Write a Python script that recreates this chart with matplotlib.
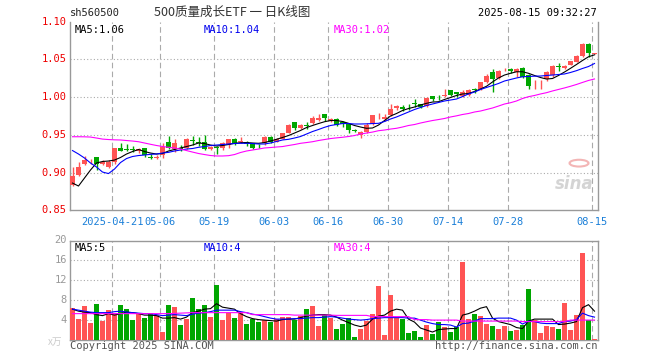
import matplotlib
matplotlib.use("Agg")
import matplotlib.pyplot as plt
import numpy as np

# ---- daily K data, 2025-04-10 .. 2025-08-15 (88 sessions) ----
open_ = [0.883, 0.897, 0.911, 0.9175, 0.920, 0.912, 0.908, 0.914, 0.933, 0.931,
         0.931, 0.928, 0.932, 0.920, 0.9195, 0.923, 0.940, 0.931, 0.933, 0.932,
         0.9425, 0.941, 0.941, 0.931, 0.934, 0.932, 0.936, 0.945, 0.9405, 0.940,
         0.939, 0.9355, 0.939, 0.9475, 0.941, 0.945, 0.953, 0.967, 0.959, 0.963,
         0.966, 0.970, 0.9777, 0.969, 0.9706, 0.9674, 0.9643, 0.9557, 0.9497, 0.9541,
         0.9643, 0.9718, 0.9705, 0.9763, 0.9853, 0.9865, 0.9910, 0.9925, 0.9908, 0.9882,
         1.0015, 1.0028, 1.002, 1.0094, 1.0072, 1.0015, 1.003, 1.0105, 1.0107, 1.0204,
         1.0337, 1.0249, 1.0370, 1.0369, 1.0329, 1.0382, 1.0293, 1.0145, 1.0222, 1.0236,
         1.0293, 1.0410, 1.0382, 1.0426, 1.0470, 1.0545, 1.0700, 1.0575]
high = [0.907, 0.914, 0.922, 0.9185, 0.920, 0.917, 0.917, 0.933, 0.939, 0.938,
        0.935, 0.933, 0.932, 0.924, 0.923, 0.939, 0.948, 0.944, 0.936, 0.946,
        0.948, 0.947, 0.950, 0.935, 0.935, 0.940, 0.945, 0.9455, 0.947, 0.9425,
        0.939, 0.938, 0.949, 0.948, 0.946, 0.953, 0.964, 0.967, 0.964, 0.967,
        0.975, 0.977, 0.978, 0.973, 0.972, 0.968, 0.965, 0.9573, 0.9545, 0.9653,
        0.9763, 0.9785, 0.978, 0.9909, 0.989, 0.989, 0.991, 0.997, 0.991, 0.9997,
        1.0015, 1.0028, 1.0103, 1.0094, 1.0072, 1.009, 1.011, 1.0125, 1.0204, 1.0302,
        1.0373, 1.036, 1.0383, 1.0383, 1.0383, 1.0403, 1.0306, 1.0226, 1.0227, 1.034,
        1.0426, 1.0456, 1.0430, 1.0485, 1.0560, 1.0723, 1.0723, 1.0585]
low = [0.882, 0.895, 0.910, 0.911, 0.903, 0.910, 0.906, 0.912, 0.928, 0.928,
       0.927, 0.926, 0.920, 0.9175, 0.918, 0.919, 0.931, 0.927, 0.929, 0.931,
       0.936, 0.935, 0.930, 0.930, 0.925, 0.930, 0.933, 0.937, 0.9387, 0.935,
       0.931, 0.932, 0.936, 0.939, 0.940, 0.944, 0.952, 0.957, 0.958, 0.958,
       0.965, 0.968, 0.969, 0.967, 0.962, 0.960, 0.9528, 0.954, 0.9453, 0.9528,
       0.963, 0.9705, 0.969, 0.975, 0.9835, 0.982, 0.983, 0.9865, 0.985, 0.9873,
       0.9952, 0.996, 0.9997, 1.0015, 1.0005, 1.000, 1.002, 1.0055, 1.0094, 1.0183,
       1.0072, 1.024, 1.0350, 1.0315, 1.0262, 1.0249, 1.0103, 1.0103, 1.0103, 1.022,
       1.0263, 1.035, 1.0370, 1.0420, 1.0460, 1.0530, 1.0530, 1.0570]
close = [0.895, 0.907, 0.917, 0.9180, 0.912, 0.914, 0.914, 0.933, 0.929, 0.930,
         0.930, 0.931, 0.923, 0.9195, 0.920, 0.934, 0.933, 0.939, 0.931, 0.945,
         0.942, 0.939, 0.931, 0.934, 0.933, 0.939, 0.944, 0.939, 0.941, 0.938,
         0.933, 0.935, 0.9475, 0.941, 0.945, 0.952, 0.963, 0.959, 0.963, 0.962,
         0.973, 0.9727, 0.9717, 0.971, 0.963, 0.9643, 0.9563, 0.955, 0.9541, 0.963,
         0.9763, 0.9722, 0.974, 0.9838, 0.9882, 0.9838, 0.9905, 0.9908, 0.9873, 0.9984,
         0.997, 1.0025, 1.003, 1.0028, 1.0041, 1.0065, 1.0094, 1.0100, 1.0196, 1.0284,
         1.0240, 1.0346, 1.0373, 1.0346, 1.0369, 1.0263, 1.0151, 1.0150, 1.0227, 1.0329,
         1.0412, 1.0398, 1.0416, 1.0479, 1.0545, 1.0700, 1.0589, 1.0580]

ma5 = [0.8861, 0.8822, 0.8928, 0.9034, 0.9127, 0.9147, 0.9153, 0.9166, 0.9200, 0.9246,
       0.9279, 0.9306, 0.9279, 0.9259, 0.9246, 0.9253, 0.9286, 0.9306, 0.9326, 0.9345,
       0.9365, 0.9392, 0.9385, 0.9365, 0.9352, 0.9359, 0.9372, 0.9388, 0.9396, 0.9398,
       0.9392, 0.9388, 0.9398, 0.9418, 0.9441, 0.9465, 0.9491, 0.9524, 0.9558, 0.9597,
       0.9624, 0.9650, 0.9674, 0.9690, 0.9690, 0.9677, 0.9653, 0.9624, 0.9604, 0.9587,
       0.9591, 0.9630, 0.9690, 0.9750, 0.9783, 0.9823, 0.9849, 0.9869, 0.9896, 0.9918,
       0.9935, 0.9939, 0.9969, 0.9995, 1.0022, 1.0042, 1.0048, 1.0075, 1.0108, 1.0144,
       1.0201, 1.0254, 1.0293, 1.0316, 1.0336, 1.0337, 1.0316, 1.0287, 1.0260, 1.0240,
       1.0247, 1.0287, 1.0333, 1.0382, 1.0433, 1.0486, 1.0535, 1.0561]
ma10 = [0.9292, 0.9246, 0.9193, 0.9127, 0.9074, 0.9007, 0.8987, 0.9047, 0.9133, 0.9186,
        0.9213, 0.9226, 0.9233, 0.9242, 0.9246, 0.9259, 0.9268, 0.9286, 0.9299, 0.9312,
        0.9319, 0.9335, 0.9345, 0.9359, 0.9365, 0.9372, 0.9379, 0.9385, 0.9388, 0.9388,
        0.9385, 0.9379, 0.9379, 0.9392, 0.9412, 0.9432, 0.9441, 0.9458, 0.9478, 0.9511,
        0.9544, 0.9571, 0.9600, 0.9624, 0.9637, 0.9650, 0.9650, 0.9644, 0.9644, 0.9646,
        0.9650, 0.9653, 0.9677, 0.9710, 0.9737, 0.9770, 0.9803, 0.9836, 0.9863, 0.9889,
        0.9909, 0.9929, 0.9949, 0.9962, 0.9975, 1.0008, 1.0042, 1.0068, 1.0101, 1.0128,
        1.0154, 1.0181, 1.0214, 1.0234, 1.0254, 1.0270, 1.0274, 1.0278, 1.0280, 1.0287,
        1.0293, 1.0300, 1.0307, 1.0327, 1.0351, 1.0380, 1.0406, 1.0446]
ma30 = [0.9475, 0.9475, 0.9474, 0.9471, 0.9458, 0.9444, 0.9438, 0.9434, 0.9432, 0.9425,
        0.9418, 0.9409, 0.9392, 0.9375, 0.9359, 0.9346, 0.9335, 0.9326, 0.9312, 0.9292,
        0.9272, 0.9253, 0.9239, 0.9226, 0.9220, 0.9220, 0.9224, 0.9239, 0.9266, 0.9286,
        0.9299, 0.9312, 0.9326, 0.9332, 0.9339, 0.9345, 0.9359, 0.9372, 0.9388, 0.9398,
        0.9409, 0.9425, 0.9438, 0.9451, 0.9460, 0.9468, 0.9478, 0.9491, 0.9511, 0.9524,
        0.9537, 0.9555, 0.9564, 0.9577, 0.9587, 0.9604, 0.9624, 0.9637, 0.9657, 0.9674,
        0.9690, 0.9703, 0.9717, 0.9737, 0.9752, 0.9770, 0.9783, 0.9803, 0.9816, 0.9836,
        0.9856, 0.9882, 0.9909, 0.9926, 0.9949, 0.9982, 1.0006, 1.0022, 1.0042, 1.0059,
        1.0082, 1.0102, 1.0122, 1.0144, 1.0168, 1.0195, 1.0221, 1.0241]

# volume in 万
vol = [6.5, 4.2, 6.9, 3.5, 7.2, 3.9, 6.0, 5.5, 7.0, 6.2,
       4.0, 5.5, 4.4, 5.5, 5.1, 1.7, 7.0, 6.7, 3.0, 4.3,
       8.4, 6.2, 7.0, 4.7, 11.0, 4.0, 5.5, 4.4, 5.5, 3.2,
       4.3, 3.6, 4.0, 3.7, 4.2, 4.6, 4.6, 4.1, 4.9, 6.2,
       6.8, 2.8, 5.0, 4.5, 2.3, 3.2, 4.5, 0.6, 2.3, 3.9,
       5.3, 10.8, 1.0, 9.0, 4.5, 4.3, 1.4, 1.8, 0.6, 3.0,
       1.3, 3.7, 2.6, 1.7, 2.6, 15.7, 4.3, 5.2, 4.8, 3.3,
       2.8, 2.3, 2.8, 1.8, 2.0, 3.0, 10.2, 4.0, 1.4, 2.8,
       2.7, 2.3, 7.4, 2.0, 5.1, 17.4, 4.0, 0.2]
vma5 = [6.2, 5.8, 5.6, 5.5, 5.1, 4.9, 5.3, 5.0, 5.3, 5.6,
        5.5, 5.3, 5.0, 5.0, 4.9, 4.4, 4.4, 4.5, 4.2, 4.6,
        5.5, 5.8, 6.2, 6.3, 7.3, 6.6, 6.4, 6.2, 5.3, 4.7,
        4.3, 4.1, 4.0, 3.9, 3.8, 4.1, 4.2, 4.2, 4.5, 4.8,
        5.0, 5.1, 5.1, 5.0, 4.6, 4.0, 3.5, 3.0, 2.7, 3.0,
        4.2, 4.8, 5.0, 5.8, 6.2, 6.0, 4.2, 3.6, 2.4, 2.0,
        1.6, 2.1, 2.2, 2.3, 2.3, 5.0, 5.3, 5.8, 6.4, 6.7,
        4.4, 3.7, 3.4, 3.1, 2.5, 2.3, 3.8, 4.2, 4.2, 4.2,
        4.2, 3.1, 3.2, 3.4, 3.7, 6.5, 7.1, 5.8]
vma10 = [6.2, 6.0, 5.8, 5.6, 5.5, 5.5, 5.5, 5.7, 5.8, 5.6,
         5.5, 5.4, 5.3, 5.3, 5.1, 4.9, 5.0, 5.1, 5.0, 4.9,
         5.2, 5.4, 5.5, 5.7, 6.0, 6.0, 6.0, 6.0, 5.7, 5.5,
         5.2, 5.0, 4.7, 4.4, 4.2, 4.2, 4.2, 4.3, 4.3, 4.4,
         4.5, 4.5, 4.6, 4.7, 4.6, 4.4, 4.2, 4.1, 4.0, 4.1,
         4.3, 4.4, 4.5, 4.5, 4.5, 4.5, 4.4, 4.4, 4.0, 3.6,
         3.3, 3.1, 3.1, 3.0, 2.6, 3.3, 3.4, 3.8, 4.3, 4.3,
         4.3, 4.4, 4.4, 4.4, 4.0, 3.2, 3.8, 3.7, 3.4, 3.3,
         3.3, 3.3, 3.7, 3.8, 4.1, 5.4, 4.9, 4.6]
vma30 = [5.3, 5.3, 5.3, 5.3, 5.3, 5.3, 5.3, 5.3, 5.3, 5.3,
         5.3, 5.3, 5.3, 5.3, 5.3, 5.3, 5.3, 5.35, 5.4, 5.45,
         5.5, 5.5, 5.5, 5.5, 5.5, 5.5, 5.5, 5.5, 5.5, 5.5,
         5.1, 5.1, 5.1, 5.1, 5.1, 5.1, 5.1, 5.0, 5.0, 5.0,
         5.0, 5.0, 5.0, 5.0, 4.95, 4.95, 4.95, 4.95, 4.95, 4.95,
         4.7, 4.7, 4.7, 4.7, 4.7, 4.7, 4.7, 4.1, 4.1, 4.1,
         4.0, 4.0, 4.0, 4.0, 4.0, 3.8, 3.8, 3.8, 3.8, 3.8,
         3.8, 3.8, 3.8, 3.8, 3.8, 3.7, 3.7, 3.7, 3.7, 3.7,
         3.7, 3.7, 3.7, 4.0, 4.0, 4.0, 4.0, 4.0]

date_pos = [7, 15, 24, 34, 43, 53, 63, 73, 87]
date_labels = ["2025-04-21", "05-06", "05-19", "06-03", "06-16",
               "06-30", "07-14", "07-28", "08-15"]
price_ticks = [0.85, 0.90, 0.95, 1.00, 1.05, 1.10]
vol_ticks = [4, 8, 12, 16, 20]

RED = "#ff5454"
GREEN = "#00a600"
GRID = "#aaaaaa"
FRAME = "#999999"
MONO = "DejaVu Sans Mono"
CJK = ["Noto Sans CJK SC", "DejaVu Sans"]

W, H = 660, 360
fig = plt.figure(figsize=(W / 100, H / 100), dpi=100)


def fx(px):
    return px / W


def fy(py):
    return 1 - py / H


x = np.arange(len(close))
o = np.array(open_)
c = np.array(close)
up = c >= o
colors = np.where(up, RED, GREEN)

ax = fig.add_axes([fx(70), fy(210.3), fx(597.5) - fx(70), fy(21.7) - fy(210.3)])
axv = fig.add_axes([fx(70), fy(340), fx(597.5) - fx(70), fy(240.5) - fy(340)])
xlim = (-0.4167, 87.5)

# ---- price panel ----
for p in price_ticks[1:-1]:
    ax.axhline(p, color=GRID, lw=0.8, ls=(0, (1, 2)), zorder=1)
for p in date_pos:
    ax.axvline(p - 0.35, color=GRID, lw=0.8, ls=(0, (5, 3)), zorder=1)

ax.vlines(x, low, high, colors=colors, lw=1, zorder=3)
body = np.maximum(np.abs(c - o), 0.0008)
ax.bar(x, body, bottom=np.minimum(o, c), width=0.78, color=colors, lw=0, zorder=4)

ax.plot(x, ma5, color="black", lw=0.8, zorder=5)
ax.plot(x, ma10, color="#0000ff", lw=0.8, zorder=5)
ax.plot(x, ma30, color="#ff00ff", lw=0.8, zorder=5)

ax.set_xlim(*xlim)
ax.set_ylim(0.85, 1.10)
ax.set_xticks([])
ax.set_yticks([])
for s in ["left", "bottom", "right"]:
    ax.spines[s].set_color(FRAME)
    ax.spines[s].set_linewidth(1)
ax.spines["top"].set_visible(False)
ax.patch.set_alpha(0)

for p in price_ticks:
    ax.text(-0.007, p, f"{p:.2f}", transform=ax.get_yaxis_transform(),
            ha="right", va="center", color="#ee0000", fontsize=7.5, family=MONO)
for p, lab in zip(date_pos, date_labels):
    ax.text(p - 0.35, -0.035, lab, transform=ax.get_xaxis_transform(),
            ha="center", va="top", color="#1a7fd8", fontsize=7.5, family=MONO)

ax.text(0.008, 0.985, f"MA5:{ma5[-1]:.2f}", transform=ax.transAxes, ha="left", va="top",
        color="black", fontsize=7.5, family=MONO)
ax.text(0.254, 0.985, f"MA10:{ma10[-1]:.2f}", transform=ax.transAxes, ha="left", va="top",
        color="#0000ee", fontsize=7.5, family=MONO)
ax.text(0.500, 0.985, f"MA30:{ma30[-1]:.2f}", transform=ax.transAxes, ha="left", va="top",
        color="#ff00ff", fontsize=7.5, family=MONO)

# sina watermark
ax.text(0.955, 0.14, "sina", transform=ax.transAxes, ha="center", va="center",
        color="#d4d4d4", fontsize=12, fontweight="bold", style="italic", family="DejaVu Sans")
ax.add_patch(plt.Circle((0.965, 0.25), 0.018, transform=ax.transAxes, fill=False,
                        ec="#f3b5b5", lw=1.5))

# ---- volume panel ----
for v in vol_ticks[:-1]:
    axv.axhline(v, color=GRID, lw=0.8, ls=(0, (1, 2)), zorder=1)
for p in date_pos:
    axv.axvline(p - 0.35, color=GRID, lw=0.8, ls=(0, (5, 3)), zorder=1)
axv.bar(x, vol, width=0.82, color=colors, lw=0, zorder=3)
axv.plot(x, vma5, color="black", lw=0.8, zorder=5)
axv.plot(x, vma10, color="#0000ff", lw=0.8, zorder=5)
axv.plot(x, vma30, color="#ff00ff", lw=0.8, zorder=5)
axv.set_xlim(*xlim)
axv.set_ylim(0, 20)
axv.set_xticks([])
axv.set_yticks([])
for s in axv.spines.values():
    s.set_color(FRAME)
    s.set_linewidth(1)
axv.patch.set_alpha(0)
for v in vol_ticks:
    axv.text(-0.006, v, str(v), transform=axv.get_yaxis_transform(),
             ha="right", va="center", color="#999999", fontsize=7.5, family=MONO)
axv.text(0.008, 0.975, f"MA5:{int(vma5[-1])}", transform=axv.transAxes, ha="left", va="top",
         color="black", fontsize=7.5, family=MONO)
axv.text(0.254, 0.975, f"MA10:{int(vma10[-1])}", transform=axv.transAxes, ha="left", va="top",
         color="#0000ee", fontsize=7.5, family=MONO)
axv.text(0.500, 0.975, f"MA30:{int(vma30[-1])}", transform=axv.transAxes, ha="left", va="top",
         color="#ff00ff", fontsize=7.5, family=MONO)

# ---- header / footer ----
fig.text(fx(70), fy(13), "sh560500", ha="left", va="center", fontsize=7.5,
         family=MONO, color="#222222")
fig.text(fx(232), fy(12), "500质量成长ETF 一 日K线图", ha="center", va="center",
         fontsize=9, family=CJK, color="#333333")
fig.text(fx(597), fy(13), "2025-08-15 09:32:27", ha="right", va="center", fontsize=7.5,
         family=MONO, color="black")
fig.text(fx(70), fy(346), "Copyright 2025 SINA.COM", ha="left", va="center", fontsize=7.5,
         family=MONO, color="#555555")
fig.text(fx(597), fy(346), "http://finance.sina.com.cn", ha="right", va="center",
         fontsize=7.5, family=MONO, color="#555555")
fig.text(fx(55), fy(342), "x万", ha="center", va="center", fontsize=7,
         family=CJK, color="#cccccc")

fig.savefig("out.png", dpi=100)
